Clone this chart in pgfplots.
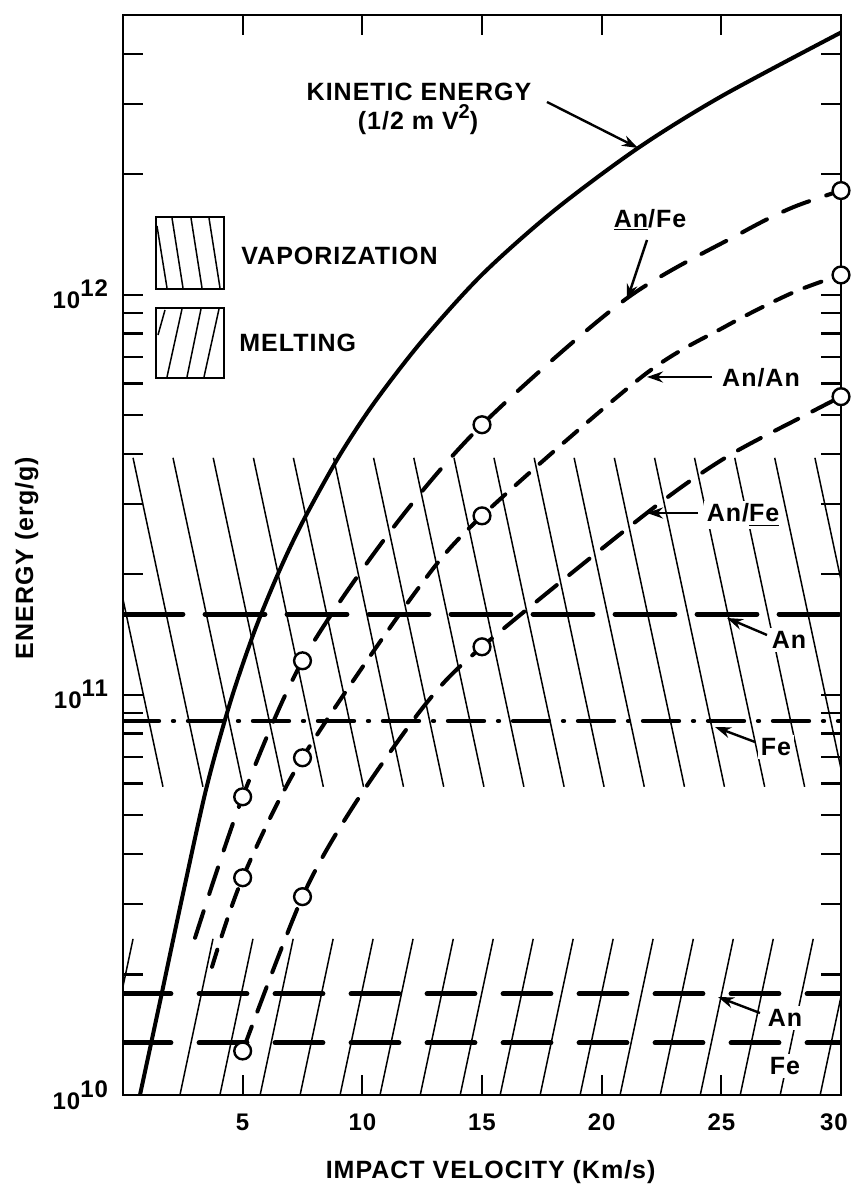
\documentclass[border=0pt]{standalone}
\usepackage{pgfplots}
\pgfplotsset{compat=1.18}
\usepackage{fontspec}
\setmainfont{Liberation Sans}[LetterSpace=4]
\usetikzlibrary{arrows.meta}
\newcommand\tpow[1]{10\raisebox{0.5em}{#1}}
\newcommand\hl[4]{\addplot[black, line width=0.75pt, forget plot] coordinates {(#1,#2) (#3,#4)};}
\begin{document}
\begin{tikzpicture}
\begin{axis}[
  scale only axis,
  width=359pt, height=540pt,
  xmin=0, xmax=30,
  ymode=log, ymin=1e10, ymax=5e12,
  axis line style={line width=1.4pt},
  every tick/.style={line width=1.1pt, black},
  major tick length=10pt, minor tick length=10pt,
  tick align=inside, xtick pos=both, ytick pos=both,
  xticklabel pos=bottom, yticklabel pos=left,
  xtick={5,10,15,20,25,30},
  xticklabels={5,10,15,20,25,{\hspace*{-7pt}30}},
  ytick={1e10,1e11,1e12},
  yticklabels={\tpow{10},\tpow{11},\tpow{12}},
  minor ytick={2e10,3e10,4e10,5e10,6e10,7e10,8e10,9e10,2e11,3e11,4e11,5e11,6e11,7e11,8e11,9e11,2e12,3e12,4e12},
  ticklabel style={font=\bfseries\fontsize{12}{14}\selectfont},
  xticklabel style={yshift=-6pt},
  yticklabel style={xshift=-4pt},
  xlabel={IMPACT VELOCITY (Km/s)},
  ylabel={ENERGY (erg/g)},
  label style={font=\bfseries\fontsize{12.5}{14}\selectfont},
  x label style={at={(axis description cs:0.512,0)}, anchor=center, yshift=-38.5pt},
  y label style={at={(axis description cs:-0.134,0.497)}, anchor=center},
]
% vaporization hatch
\hl{-1.26}{3.91e11}{1.67}{5.89e10}
\hl{0.42}{3.91e11}{3.34}{5.89e10}
\hl{2.09}{3.91e11}{5.02}{5.89e10}
\hl{3.77}{3.91e11}{6.70}{5.89e10}
\hl{5.45}{3.91e11}{8.37}{5.89e10}
\hl{7.12}{3.91e11}{10.05}{5.89e10}
\hl{8.80}{3.91e11}{11.72}{5.89e10}
\hl{10.47}{3.91e11}{13.40}{5.89e10}
\hl{12.15}{3.91e11}{15.08}{5.89e10}
\hl{13.83}{3.91e11}{16.75}{5.89e10}
\hl{15.50}{3.91e11}{18.43}{5.89e10}
\hl{17.18}{3.91e11}{20.10}{5.89e10}
\hl{18.85}{3.91e11}{21.78}{5.89e10}
\hl{20.53}{3.91e11}{23.46}{5.89e10}
\hl{22.21}{3.91e11}{25.13}{5.89e10}
\hl{23.88}{3.91e11}{26.81}{5.89e10}
\hl{25.56}{3.91e11}{28.48}{5.89e10}
\hl{27.23}{3.91e11}{30.16}{5.89e10}
\hl{28.91}{3.91e11}{31.84}{5.89e10}
% melting hatch
\hl{-0.96}{1e10}{0.42}{2.455e10}
\hl{0.71}{1e10}{2.09}{2.455e10}
\hl{2.38}{1e10}{3.76}{2.455e10}
\hl{4.05}{1e10}{5.43}{2.455e10}
\hl{5.73}{1e10}{7.11}{2.455e10}
\hl{7.40}{1e10}{8.78}{2.455e10}
\hl{9.07}{1e10}{10.45}{2.455e10}
\hl{10.74}{1e10}{12.12}{2.455e10}
\hl{12.42}{1e10}{13.80}{2.455e10}
\hl{14.09}{1e10}{15.47}{2.455e10}
\hl{15.76}{1e10}{17.14}{2.455e10}
\hl{17.43}{1e10}{18.81}{2.455e10}
\hl{19.10}{1e10}{20.48}{2.455e10}
\hl{20.77}{1e10}{22.15}{2.455e10}
\hl{22.45}{1e10}{23.83}{2.455e10}
\hl{24.12}{1e10}{25.50}{2.455e10}
\hl{25.79}{1e10}{27.17}{2.455e10}
\hl{27.46}{1e10}{28.84}{2.455e10}
\hl{29.13}{1e10}{30.51}{2.455e10}
% horizontal reference lines
\addplot[black, line width=2.4pt, line cap=round, dash pattern=on 30pt off 11pt] coordinates {(0,1.59e11) (30,1.59e11)};
\addplot[black, line width=2.2pt, line cap=round, dash pattern=on 18pt off 7pt on 0.5pt off 7pt] coordinates {(0,8.6e10) (30,8.6e10)};
\addplot[black, line width=2.4pt, line cap=round, dash pattern=on 24pt off 14pt] coordinates {(0,1.79e10) (30,1.79e10)};
\addplot[black, line width=2.4pt, line cap=round, dash pattern=on 24pt off 14pt] coordinates {(0,1.35e10) (30,1.35e10)};
% kinetic energy
\addplot[black, line width=2pt, smooth] coordinates {(0.71,1.0e10) (1.5,1.66e10) (2.5,3.17e10) (3.5,5.9e10) (4.5,9.66e10) (5.5,1.445e11) (6.5,2.02e11) (7.5,2.70e11) (9,3.92e11) (10.5,5.37e11) (12.5,7.67e11) (15,1.122e12) (18,1.62e12) (21.5,2.32e12) (25,3.13e12) (30,4.52e12)};
% An/Fe (An underlined)
\addplot[black, line width=2pt, line cap=round, smooth, dash pattern=on 14pt off 9pt] coordinates {(3.01,2.47e10) (5,5.56e10) (7.5,1.216e11) (11.16,2.556e11) (15,4.73e11) (20.98,9.72e11) (25.87,1.43e12) (27.96,1.65e12) (30,1.82e12)};
% An/An
\addplot[black, line width=2pt, line cap=round, smooth, dash pattern=on 9pt off 7pt] coordinates {(3.72,2.09e10) (5,3.49e10) (7.5,6.96e10) (12.29,1.83e11) (15,2.80e11) (21.69,6.24e11) (25.16,8.32e11) (27.96,1.01e12) (30,1.12e12)};
% An/Fe (Fe underlined)
\addplot[black, line width=2pt, line cap=round, smooth, dash pattern=on 13pt off 8pt] coordinates {(5,1.288e10) (7.5,3.13e10) (9.61,5.25e10) (12.62,9.44e10) (15,1.318e11) (21.9,2.85e11) (25.16,3.91e11) (28.37,4.95e11) (30,5.56e11)};
% circles
\addplot[only marks, mark=*, mark size=4.2pt, mark options={fill=white, draw=black, line width=1.2pt}] coordinates {(5,5.56e10) (7.5,1.216e11) (15,4.73e11) (30,1.82e12) (5,3.49e10) (7.5,6.96e10) (15,2.80e11) (30,1.12e12) (5,1.288e10) (7.5,3.13e10) (15,1.318e11) (30,5.56e11)};
\end{axis}
\begin{scope}[shift={(current axis.north west)}, xshift=-61.5pt, yshift=7.5pt, x=0.5pt, y=-0.5pt]
\tikzset{lab/.style={font=\bfseries\fontsize{12.5}{14}\selectfont, inner sep=1.5pt}, arr/.style={line width=1.2pt, -{Stealth[length=8pt, width=5.5pt]}}}
% legend boxes
\draw[line width=1.4pt] (156,217) rectangle (224,289);
\draw[line width=0.75pt] (157,226)--(167,288) (172,218)--(183,288) (191,218)--(202,288) (209,218)--(220,288);
\draw[line width=1.4pt] (156,308) rectangle (224,378);
\draw[line width=0.75pt] (158,335)--(165,310) (167,377)--(182,309) (187,377)--(201,309) (204,377)--(219,309);
\node[lab, anchor=west] at (238,256) {VAPORIZATION};
\node[lab, anchor=west] at (236,343) {MELTING};
% annotations
\node[lab] at (419,92) {KINETIC ENERGY};
\node[lab] at (418,120) {(1/2 m V\raisebox{0.45em}{\fontsize{10}{10}\selectfont 2})};
\draw[arr] (547,102) -- (638,148);
\node[lab] at (650,220) {\underline{An}/Fe};
\draw[arr] (647,240) -- (627,300);
\node[lab] at (761,378) {An/An};
\draw[arr] (712,377) -- (647,377);
\node[lab, fill=white] at (743,515) {An/\underline{Fe}};
\draw[arr] (698,513) -- (647,513);
\node[lab, fill=white] at (789,640) {An};
\draw[arr] (767,635) -- (727,618);
\node[lab, fill=white] at (776,747) {Fe};
\draw[arr] (755,742) -- (715,727);
\node[lab, fill=white] at (785,1018) {An};
\draw[arr] (760,1013) -- (718,997);
\node[lab, fill=white] at (785,1066) {Fe};
\pgfresetboundingbox
\path[use as bounding box] (0,0) rectangle (850,1186);
\end{scope}
\end{tikzpicture}
\end{document}
